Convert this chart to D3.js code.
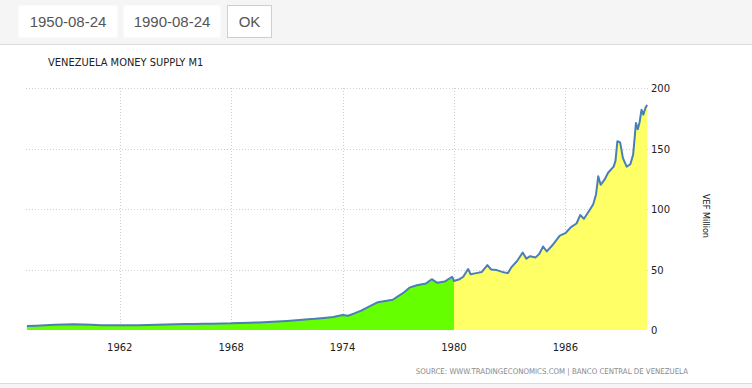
<!DOCTYPE html>
<html>
<head>
<meta charset="utf-8">
<script src="https://cdn.jsdelivr.net/npm/d3@7"></script>
<style>
  body { margin: 0; background: #fff; }
  svg { display: block; }
</style>
</head>
<body>
<script>
let w = 752;
let h = 388;

// decimal years and M1 values (VEF million)
let years = [1957.0, 1957.5, 1958.0, 1958.5, 1959.0, 1959.5, 1960.0, 1960.5, 1961.0, 1961.5,
  1962.0, 1962.5, 1963.0, 1963.5, 1964.0, 1964.5, 1965.0, 1965.5, 1966.0, 1966.5,
  1967.0, 1967.5, 1968.0, 1968.5, 1969.0, 1969.5, 1970.0, 1970.5, 1971.0, 1971.5,
  1972.0, 1972.5, 1973.0, 1973.5, 1974.0, 1974.3, 1974.6, 1975.0, 1975.5, 1975.9,
  1976.3, 1976.7, 1977.0, 1977.3, 1977.6, 1978.0, 1978.5, 1978.8, 1979.1, 1979.5,
  1979.9, 1980.0, 1980.3, 1980.5, 1980.76, 1980.9, 1981.2, 1981.5, 1981.8, 1982.0,
  1982.3, 1982.6, 1982.9, 1983.1, 1983.4, 1983.7, 1983.9, 1984.1, 1984.4, 1984.6,
  1984.8, 1985.0, 1985.3, 1985.7, 1986.0, 1986.3, 1986.6, 1986.8, 1987.0, 1987.3,
  1987.5, 1987.65, 1987.77, 1987.9, 1988.1, 1988.3, 1988.6, 1988.7, 1988.8, 1988.95,
  1989.1, 1989.3, 1989.5, 1989.65, 1989.8, 1989.9, 1990.0, 1990.1, 1990.2, 1990.3, 1990.4];

let m1 = [3.3, 3.6, 4.0, 4.3, 4.6, 4.7, 4.5, 4.3, 4.0, 3.9,
  3.9, 3.9, 4.0, 4.1, 4.3, 4.5, 4.7, 4.9, 5.0, 5.1,
  5.2, 5.4, 5.5, 5.8, 6.0, 6.3, 6.7, 7.1, 7.5, 8.0,
  8.6, 9.2, 10.0, 10.8, 12.4, 11.8, 13.5, 16, 20, 23,
  24, 25, 28, 31, 35, 37, 38.5, 42, 39, 40,
  44, 40.5, 42, 44, 50.4, 46, 47, 48, 53.7, 50,
  49.5, 48, 47, 52, 57, 64, 59, 61, 60, 63,
  69, 65, 70, 78, 80, 85, 88, 95, 92, 99,
  104, 112, 127, 120, 124, 130, 135, 140, 156, 155,
  142, 135, 137, 145, 171, 166, 172, 182, 178, 183, 186];

let xTickYears = [1962, 1968, 1974, 1980, 1986];
let yTicks = [0, 50, 100, 150, 200];
let splitYear = 1980;

let dataset = years.map((y, i) => ({ year: y, value: m1[i] }));

let xScale = d3.scaleLinear()
  .domain([1956.95, 1990.45])
  .range([26, 648]);

let yScale = d3.scaleLinear()
  .domain([0, 200])
  .range([330, 88]);

let svg = d3.select("body")
  .append("svg")
  .attr("width", w)
  .attr("height", h);

// top toolbar
svg.append("rect").attr("x", 0).attr("y", 0).attr("width", w).attr("height", 44).attr("fill", "#f5f5f5");
svg.append("line").attr("x1", 0).attr("x2", w).attr("y1", 44.5).attr("y2", 44.5).attr("stroke", "#dcdcdc");

let boxes = [
  { x: 18, w: 99, label: "1950-08-24", border: false },
  { x: 123, w: 97, label: "1990-08-24", border: false },
  { x: 227, w: 44, label: "OK", border: true }
];
boxes.forEach(b => {
  svg.append("rect")
    .attr("x", b.x + 0.5).attr("y", 5.5)
    .attr("width", b.w).attr("height", 32)
    .attr("fill", "#fff")
    .attr("stroke", b.border ? "#cfcfcf" : "none");
  svg.append("text")
    .attr("x", b.x + b.w / 2 + 0.5).attr("y", 27)
    .attr("text-anchor", "middle")
    .attr("font-family", "Liberation Sans, Arial, sans-serif")
    .attr("font-size", "15px")
    .attr("fill", "#555")
    .text(b.label);
});

// title
svg.append("text")
  .attr("x", 48).attr("y", 66)
  .attr("font-family", "DejaVu Sans Condensed, DejaVu Sans, sans-serif")
  .attr("font-size", "11px")
  .attr("fill", "#222")
  .text("VENEZUELA MONEY SUPPLY M1");

// grid
svg.selectAll("line.hgrid")
  .data(yTicks.slice(1))
  .enter()
  .append("line")
  .attr("class", "hgrid")
  .attr("x1", 26).attr("x2", 648)
  .attr("y1", d => Math.round(yScale(d)) + 0.5)
  .attr("y2", d => Math.round(yScale(d)) + 0.5)
  .attr("stroke", "#cfcfcf")
  .attr("stroke-dasharray", "1,2");

svg.selectAll("line.vgrid")
  .data(xTickYears)
  .enter()
  .append("line")
  .attr("class", "vgrid")
  .attr("x1", d => Math.round(xScale(d)) + 0.5)
  .attr("x2", d => Math.round(xScale(d)) + 0.5)
  .attr("y1", 88).attr("y2", 330)
  .attr("stroke", "#cfcfcf")
  .attr("stroke-dasharray", "1,2");

// areas, green before 1980 and yellow after
let area = d3.area()
  .x(d => xScale(d.year))
  .y0(yScale(0))
  .y1(d => yScale(d.value));

let before = dataset.filter(d => d.year <= splitYear);
let after = dataset.filter(d => d.year >= splitYear);

svg.append("path")
  .datum(before)
  .attr("d", area)
  .attr("fill", "#66ff00");

svg.append("path")
  .datum(after)
  .attr("d", area)
  .attr("fill", "#ffff66");

// line
let line = d3.line()
  .x(d => xScale(d.year))
  .y(d => yScale(d.value));

svg.append("path")
  .datum(dataset)
  .attr("d", line)
  .attr("fill", "none")
  .attr("stroke", "#4a7fb5")
  .attr("stroke-width", 2)
  .attr("stroke-linejoin", "round");

// y axis labels on the right
svg.selectAll("text.ylab")
  .data(yTicks)
  .enter()
  .append("text")
  .attr("class", "ylab")
  .attr("x", 651)
  .attr("y", d => yScale(d) + 4)
  .attr("font-family", "DejaVu Sans, sans-serif")
  .attr("font-size", "10px")
  .attr("fill", "#222")
  .text(d => d);

// x axis labels
svg.selectAll("text.xlab")
  .data(xTickYears)
  .enter()
  .append("text")
  .attr("class", "xlab")
  .attr("x", d => xScale(d))
  .attr("y", 351)
  .attr("text-anchor", "middle")
  .attr("font-family", "DejaVu Sans, sans-serif")
  .attr("font-size", "10px")
  .attr("fill", "#222")
  .text(d => d);

// y axis title
svg.append("text")
  .attr("transform", "translate(703,216) rotate(90)")
  .attr("text-anchor", "middle")
  .attr("font-family", "DejaVu Sans Condensed, DejaVu Sans, sans-serif")
  .attr("font-size", "9px")
  .attr("fill", "#111")
  .text("VEF Million");

// source
svg.append("text")
  .attr("x", 688).attr("y", 374)
  .attr("text-anchor", "end")
  .attr("font-family", "DejaVu Sans Condensed, DejaVu Sans, sans-serif")
  .attr("font-size", "7.8px")
  .attr("fill", "#888")
  .text("SOURCE: WWW.TRADINGECONOMICS.COM  |  BANCO CENTRAL DE VENEZUELA");

// bottom border
svg.append("rect").attr("x", 0).attr("y", 384).attr("width", w).attr("height", 4).attr("fill", "#f5f5f5");
svg.append("line").attr("x1", 0).attr("x2", w).attr("y1", 383.5).attr("y2", 383.5).attr("stroke", "#dcdcdc");
</script>
</body>
</html>
